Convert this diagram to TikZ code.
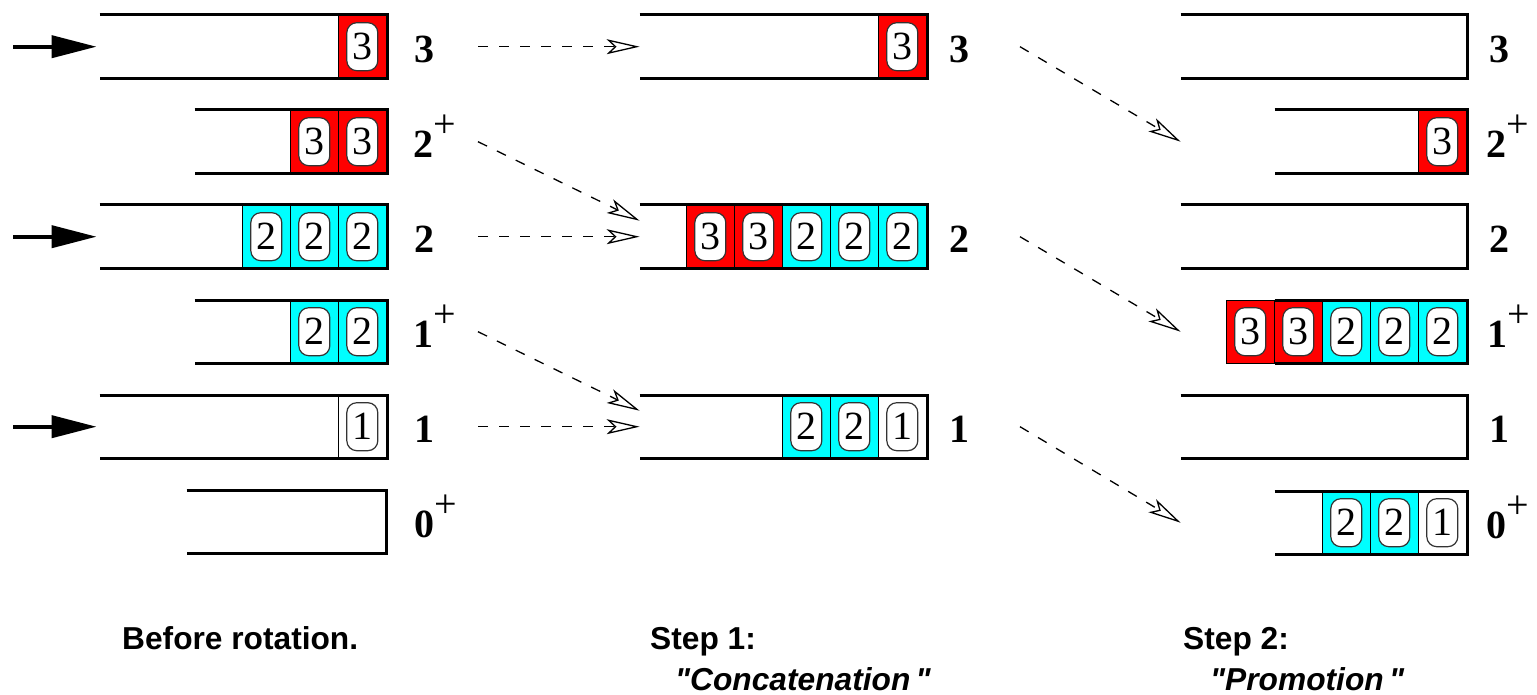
\documentclass[tikz,border=0pt]{standalone}
\usepackage{fontspec}
\setmainfont{Liberation Serif}
\newfontfamily\capfont{Liberation Sans}
\usetikzlibrary{positioning, arrows.meta}
\definecolor{qred}{RGB}{255,0,0}
\definecolor{qcyan}{RGB}{0,255,255}
\tikzset{
  % Queue, open at its tail
  queue/.style={minimum height=63pt, inner sep=0pt, anchor=north east},
  qline/.style={line width=3pt},
  % Cell of a queue
  cell/.style={draw, line width=1.4pt, minimum width=48pt,
    minimum height=63pt, inner sep=0pt, anchor=east},
  % Packet in a cell
  tok/.style={draw=black!80, fill=white, line width=1.2pt,
    rounded corners=10pt, minimum width=31pt, minimum height=48pt,
    inner sep=0pt, font=\fontsize{40}{42}\selectfont},
  % Priority label
  prio/.style={anchor=base west, inner sep=0pt,
    font=\fontsize{40}{42}\selectfont\bfseries},
  % Caption
  capt/.style={anchor=base west, inner sep=0pt,
    font=\fontsize{31.7}{36}\selectfont\capfont\bfseries},
  icapt/.style={capt, font=\fontsize{31.7}{36}\selectfont\capfont\bfseries\itshape},
  % Arrows
  in->/.style={-{Triangle[length=45pt, width=22pt]}, line width=4pt,
    shorten >=3pt},
  mv->/.style={-{Stealth[open, length=33pt, width=15pt, inset=8pt]},
    line width=1.3pt, dash pattern=on 10pt off 11pt},
}
% cells of a queue, listed from its head
\newcommand\fillq[2]{%
  \foreach \col/\num [count=\i, evaluate=\i as \dx using (1-\i)*48] in {#2} {
    \node[cell, fill=\col] (#1-\i) at ([xshift=\dx pt]#1.east) {};
    \node[tok] at (#1-\i) {\num};
  }}
% outline of a queue
\newcommand\outq[1]{%
  \draw[qline] (#1.north west) -- (#1.north east) -- (#1.south east)
    -- (#1.south west);}
\newcommand\supplus{\raisebox{0.5em}{\mdseries +}}

\begin{document}
\begin{tikzpicture}[x=1pt, y=-1pt]
  \useasboundingbox (0,0) rectangle (1537,695);

  % before rotation
  \node[queue, minimum width=287] (l3) at (387,15) {};
  \node[queue, minimum width=192] (l2p) at (387,110) {};
  \node[queue, minimum width=287] (l2) at (387,205) {};
  \node[queue, minimum width=192] (l1p) at (387,300) {};
  \node[queue, minimum width=287] (l1) at (387,395) {};
  \node[queue, minimum width=199] (l0p) at (386,490) {};
  \fillq{l3}{qred/3}
  \fillq{l2p}{qred/3,qred/3}
  \fillq{l2}{qcyan/2,qcyan/2,qcyan/2}
  \fillq{l1p}{qcyan/2,qcyan/2}
  \fillq{l1}{white/1}
  \foreach \q in {l3,l2p,l2,l1p,l1,l0p} {\outq{\q}}
  \node[prio] (l3-lab) at ([xshift=27pt, yshift=-16pt]l3.east) {3};
  \node[prio] (l2p-lab) at ([xshift=26pt, yshift=-16pt]l2p.east) {2\supplus};
  \node[prio] (l2-lab) at ([xshift=27pt, yshift=-16pt]l2.east) {2};
  \node[prio] (l1p-lab) at ([xshift=26pt, yshift=-16pt]l1p.east) {1\supplus};
  \node[prio] (l1-lab) at ([xshift=27pt, yshift=-16pt]l1.east) {1};
  \node[prio] (l0p-lab) at ([xshift=28pt, yshift=-16pt]l0p.east) {0\supplus};

  % step 1
  \node[queue, minimum width=287] (m3) at (927,15) {};
  \node[queue, minimum width=287] (m2) at (927,205) {};
  \node[queue, minimum width=287] (m1) at (927,395) {};
  \fillq{m3}{qred/3}
  \fillq{m2}{qcyan/2,qcyan/2,qcyan/2,qred/3,qred/3}
  \fillq{m1}{white/1,qcyan/2,qcyan/2}
  \foreach \q in {m3,m2,m1} {\outq{\q}}
  \node[prio] (m3-lab) at ([xshift=22pt, yshift=-16pt]m3.east) {3};
  \node[prio] (m2-lab) at ([xshift=22pt, yshift=-16pt]m2.east) {2};
  \node[prio] (m1-lab) at ([xshift=22pt, yshift=-16pt]m1.east) {1};

  % step 2
  \node[queue, minimum width=286] (r3) at (1467,15) {};
  \node[queue, minimum width=192] (r2p) at (1467,110) {};
  \node[queue, minimum width=286] (r2) at (1467,205) {};
  \node[queue, minimum width=192] (r1p) at (1467,300) {};
  \node[queue, minimum width=286] (r1) at (1467,395) {};
  \node[queue, minimum width=192] (r0p) at (1467,491) {};
  \fillq{r2p}{qred/3}
  \fillq{r1p}{qcyan/2,qcyan/2,qcyan/2,qred/3,qred/3}
  \fillq{r0p}{white/1,qcyan/2,qcyan/2}
  \foreach \q in {r3,r2p,r2,r1p,r1,r0p} {\outq{\q}}
  \node[prio] (r3-lab) at ([xshift=22pt, yshift=-16pt]r3.east) {3};
  \node[prio] (r2p-lab) at ([xshift=19pt, yshift=-16pt]r2p.east) {2\supplus};
  \node[prio] (r2-lab) at ([xshift=22pt, yshift=-16pt]r2.east) {2};
  \node[prio] (r1p-lab) at ([xshift=20pt, yshift=-16pt]r1p.east) {1\supplus};
  \node[prio] (r1-lab) at ([xshift=22pt, yshift=-16pt]r1.east) {1};
  \node[prio] (r0p-lab) at ([xshift=19pt, yshift=-16pt]r0p.east) {0\supplus};

  % arrows
  \coordinate (in) at (13,0);
  \coordinate (s1) at (478,0);
  \coordinate (s2) at (1020,0);
  \foreach \q in {l3,l2,l1} {\draw[in->] (\q -| in) -- (\q.west);}
  \draw[mv->] (l3 -| s1) -- (m3.west);
  \draw[mv->] (l2p -| s1) -- ([yshift=16pt]m2.west);
  \draw[mv->] (l2 -| s1) -- (m2.west);
  \draw[mv->] (l1p -| s1) -- ([yshift=16pt]m1.west);
  \draw[mv->] (l1 -| s1) -- (m1.west);
  \draw[mv->] (m3 -| s2) -- (r3.west |- r2p);
  \draw[mv->] (m2 -| s2) -- (r3.west |- r1p);
  \draw[mv->] (m1 -| s2) -- (r3.west |- r0p);

  % captions
  \node[capt] (cap0) at (122,649) {Before rotation.};
  \node[capt] (cap1) at (650,649) {Step 1:};
  \node[icapt] (cap1b) at (675,690) {"Concatenation\,"};
  \node[capt] (cap2) at (1183,649) {Step 2:};
  \node[icapt] (cap2b) at (1210,690) {"Promotion\,"};
\end{tikzpicture}
\end{document}
